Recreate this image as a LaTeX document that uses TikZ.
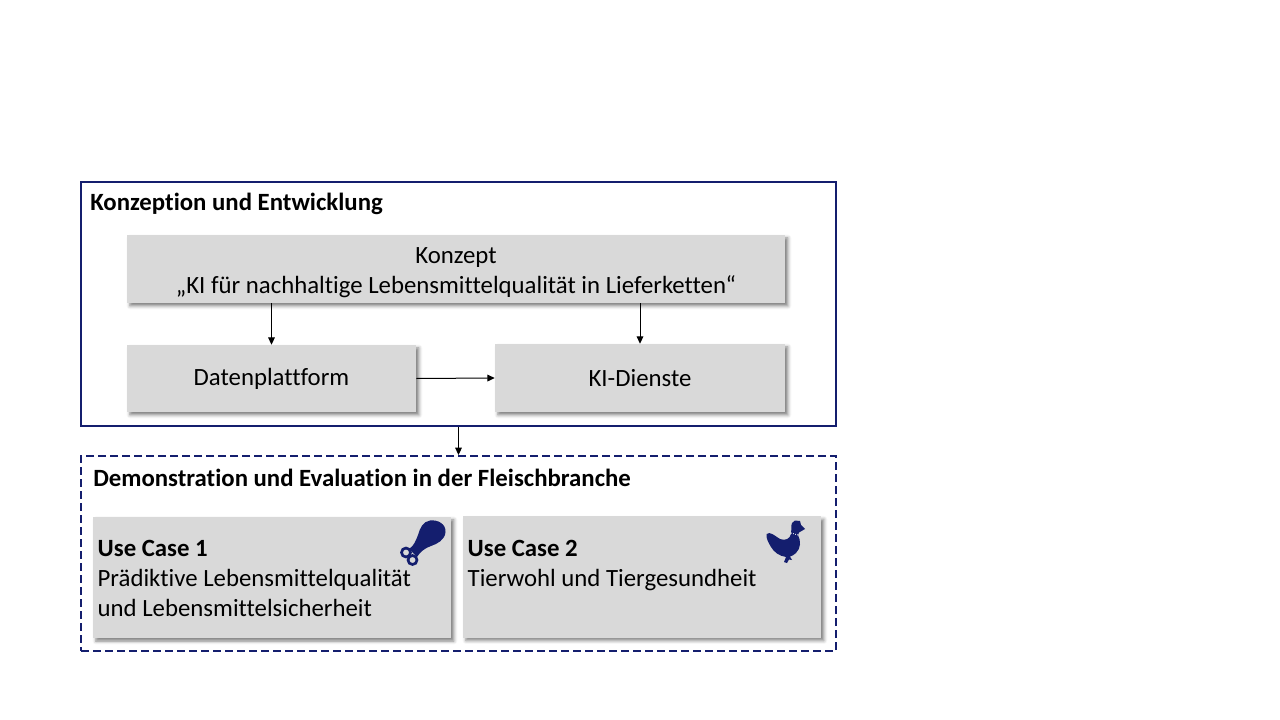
\documentclass[tikz,border=0pt]{standalone}
\usepackage{fontspec}
\setmainfont{Carlito}[Ligatures=NoCommon]
\usetikzlibrary{arrows.meta, shadows.blur}
\definecolor{navyline}{RGB}{20,30,110}
\definecolor{boxgray}{RGB}{217,217,217}
\tikzset{
  framebox/.style={draw=navyline, line width=1.5pt, inner sep=0pt, minimum width=566.25pt},
  greybox/.style={fill=boxgray, inner sep=0pt, align=center,
    blur shadow={shadow xshift=2.2pt, shadow yshift=-2.2pt, shadow blur radius=2.5pt, shadow opacity=50}},
  casebox/.style={greybox, align=flush left, inner xsep=3.5pt, text width=261.5pt, minimum height=91pt},
  boxtext/.style={font=\fontsize{18.6}{22.5}\selectfont},
  headtext/.style={font=\fontsize{18.6}{22.5}\selectfont\bfseries, anchor=west, inner sep=0pt},
  flow/.style={-{Triangle[length=5.5pt,width=5pt]}, line width=0.75pt}
}
\begin{document}
\begin{tikzpicture}[x=0.75pt,y=0.75pt,yscale=-1,xscale=1]
\useasboundingbox (0,0) rectangle (1280,720);

% Frames
\node [framebox, minimum height=183pt] (konzeption) at (458.5,304) {};
\node [framebox, dashed, dash pattern=on 6pt off 3pt, minimum height=146.25pt] (demonstration) at (458.5,553.5) {};
% Headings
\node [headtext] (konzeptiontitle) at (90,204) {Konzeption und Entwicklung};
\node [headtext] (demonstrationtitle) at (93,478) {Demonstration und Evaluation in der Fleischbranche};

% Text Node
\node [greybox, boxtext, minimum width=493.5pt, minimum height=51pt] (konzept) at (456,269) {\rule{0pt}{18pt}Konzept\\„KI für nachhaltige Lebensmittelqualität in Lieferketten“};
% Text Node
\node [greybox, boxtext, minimum width=216.75pt, minimum height=50.25pt, text depth=2.5pt] (datenplattform) at (271.5,378.5) {Datenplattform};
% Text Node
\node [greybox, boxtext, minimum width=217.5pt, minimum height=51pt] (kidienste) at (640,378) {KI-Dienste};
% Text Node
\node [casebox, boxtext] (usecaseone) at (272,577.5) {\rule{0pt}{14pt}\textbf{Use Case 1}\\Prädiktive Lebensmittelqualität\\und Lebensmittelsicherheit};
% Text Node
\node [casebox, boxtext] (usecasetwo) at (642,577) {\rule{0pt}{14pt}\textbf{Use Case 2}\\Tierwohl und Tiergesundheit\\\mbox{}};

% Arrows
\draw [flow] (konzept.south -| datenplattform.north) -- (datenplattform.north);
\draw [flow] (konzept.south -| kidienste.north) -- (kidienste.north);
\draw [flow] (datenplattform.east) -- (kidienste.west);
\draw [flow] (konzeption.south) -- (demonstration.north);

%Shape: drumstick
\draw [draw opacity=0][fill=navyline] (430,520.5) .. controls (438,519.5) and (446,524) .. (445.5,532) .. controls (445,540) and (437,544) .. (431,546) .. controls (425,548) and (420,552) .. (417,557) -- (409,549) .. controls (414,546) and (416,540) .. (418,535) .. controls (420,528) and (423,521.5) .. (430,520.5) -- cycle ;
\draw [navyline, line width=2pt, fill=boxgray] (406,552.5) circle (4.5) ;
\draw [navyline, line width=2pt, fill=boxgray] (412.5,560) circle (4.5) ;

%Shape: chicken
\draw [draw opacity=0][fill=navyline] (766.5,534) .. controls (770,531) and (775,536) .. (780,539) .. controls (785,541) and (790,539) .. (791,534) .. controls (791.5,530) and (791,525) .. (792,523) -- (795,520.5) -- (800,521) -- (801,525) -- (805,529) -- (799,532.5) -- (798,535) .. controls (801,541) and (801,548) .. (796,553) .. controls (794,555) and (792,556) .. (790,556.5) -- (792,560) -- (789,559.5) -- (787,563) -- (784,562) -- (786,557) .. controls (779,556) and (774,552) .. (771,547) .. controls (768,542) and (766,538) .. (766.5,534) -- cycle ;
\draw [white, line width=0.6pt, densely dotted] (791,533) -- (798,535) ;
\end{tikzpicture}
\end{document}
